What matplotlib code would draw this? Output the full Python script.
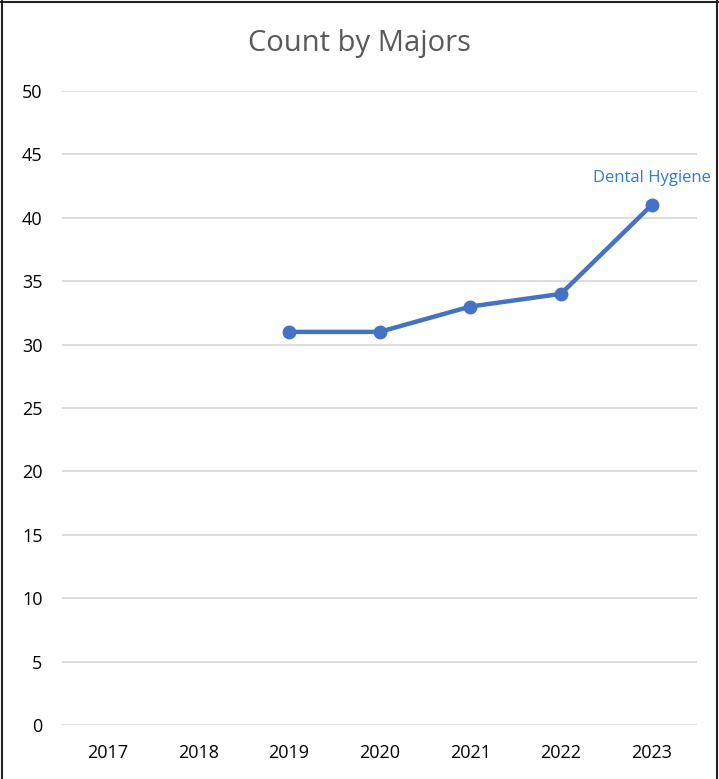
import matplotlib
matplotlib.use("Agg")
import matplotlib.pyplot as plt
import numpy as np
from matplotlib.lines import Line2D

years = ["2017", "2018", "2019", "2020", "2021", "2022", "2023"]
counts = [np.nan, np.nan, 31, 31, 33, 34, 41]
series_name = "Dental Hygiene"
title = "Count by Majors"
yticks = [0, 5, 10, 15, 20, 25, 30, 35, 40, 45, 50]

plt.rcParams['font.family'] = ['Open Sans', 'DejaVu Sans']

W, H = 719, 779
fig = plt.figure(figsize=(W / 100, H / 100), dpi=100)
ax = fig.add_axes([62 / W, 1 - 725 / H, (697 - 62) / W, (725 - 91) / H])

x = np.arange(len(years))
ax.plot(x, counts, color="#4472C4", lw=3.2, marker="o", ms=9,
        solid_capstyle="round", zorder=3, clip_on=False)

ax.set_xlim(-0.5, len(years) - 0.5)
ax.set_ylim(0, 50)
ax.set_yticks(yticks)
ax.set_xticks(x)
ax.set_xticklabels(years)
ax.grid(axis="y", color="#DDDDDD", lw=1.4)
ax.set_axisbelow(True)
for s in ax.spines.values():
    s.set_visible(False)
ax.tick_params(length=0, labelsize=13, colors="#000000")
ax.tick_params(axis="y", pad=14)
ax.tick_params(axis="x", pad=14)

last = len(years) - 1
ax.annotate(series_name, (x[last], counts[last]), xytext=(0, 19.5),
            textcoords="offset points", ha="center", va="center",
            color="#2E7BCF", fontsize=12)

fig.text(0.5, 1 - 44 / H, title, ha="center", va="center",
         fontsize=21, color="#595959")

# figure border
for xs, ys in [([1.5 / W, 1.5 / W], [0, 1]), ([0, 1], [1 - 1.5 / H, 1 - 1.5 / H]),
               ([1 - 2 / W, 1 - 2 / W], [0, 1])]:
    fig.add_artist(Line2D(xs, ys, color="#222222", lw=1.5, transform=fig.transFigure))

fig.savefig("out.png", dpi=100)
